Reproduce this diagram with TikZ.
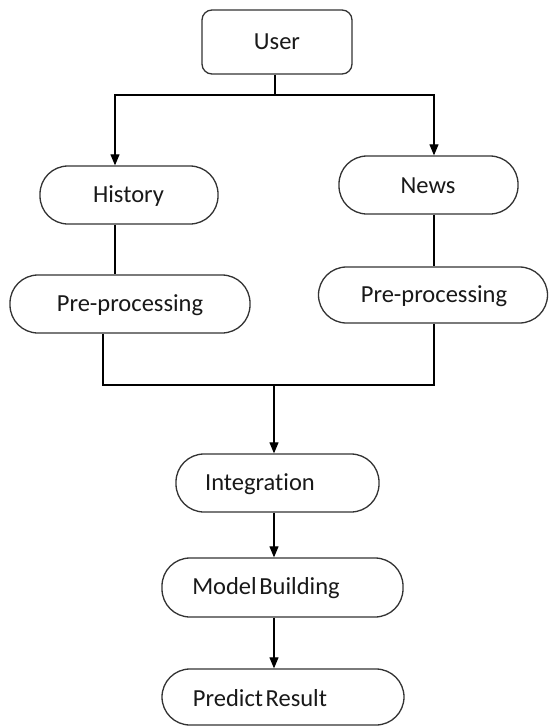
\documentclass[tikz,border=0pt]{standalone}
\usepackage{fontspec}
\setmainfont[Ligatures=NoCommon]{Carlito}
\usetikzlibrary{arrows.meta}
\begin{document}
\begin{tikzpicture}[x=1pt,y=-1pt,
  box/.style={draw=black!80, line width=1.3pt, fill=white, rounded corners=#1, inner sep=0pt},
  box/.default=28pt,
  txt/.style={font=\fontsize{24.5}{29}\selectfont, inner sep=0pt, text=black!90},
  conn/.style={draw=black, line width=1.1pt},
  arr/.style={conn, -{Triangle[length=11pt,width=9pt]}}]
\useasboundingbox (0,0) rectangle (549,726);
% boxes
\node[box=10pt, minimum width=150pt, minimum height=64pt] (user) at (277,42) {};
\node[box, minimum width=178pt, minimum height=58pt] (hist) at (129,195) {};
\node[box, minimum width=240pt, minimum height=58pt] (preL) at (130,304) {};
\node[box, minimum width=179pt, minimum height=58pt] (news) at (428.5,185) {};
\node[box, minimum width=229pt, minimum height=56pt] (preR) at (433,295) {};
\node[box, minimum width=203pt, minimum height=58pt] (integ) at (277.5,483) {};
\node[box, minimum width=241pt, minimum height=59pt] (model) at (282.5,587.5) {};
\node[box, minimum width=242pt, minimum height=56pt] (pred) at (283,697) {};
% texts
\node[txt] (tuser) at (277,42) {User};
\node[txt] (thist) at (128.5,196) {History};
\node[txt] (tpreL) at (130,305) {Pre-processing};
\node[txt] (tnews) at (428,186) {News};
\node[txt] (tpreR) at (434,296) {Pre-processing};
\node[txt] (tinteg) at (260,484) {Integration};
\node[txt] (tmodel) at (266,588) {Model\hspace{-0.12em} Building};
\node[txt] (tpred) at (260,698) {Predict\hspace{-0.12em} Result};
% junction coordinates
\coordinate (j1) at (275,95);
\coordinate (hL) at (115,95);
\coordinate (nR) at (434,95);
\coordinate (bL) at (103,385);
\coordinate (j2) at (274,385);
% connectors
\draw[conn] (user.south -| j1) -- (j1);
\draw[arr] (j1) -| (hist.north -| hL);
\draw[arr] (j1) -| (news.north -| nR);
\draw[conn] (hist.south -| hL) -- (preL.north -| hL);
\draw[conn] (news.south -| nR) -- (preR.north -| nR);
\draw[conn] (preL.south -| bL) |- (j2);
\draw[conn] (preR.south -| nR) |- (j2);
\draw[arr] (j2) -- (integ.north -| j2);
\draw[arr] (integ.south -| j2) -- (model.north -| j2);
\draw[arr] (model.south -| j2) -- (pred.north -| j2);
\end{tikzpicture}
\end{document}
